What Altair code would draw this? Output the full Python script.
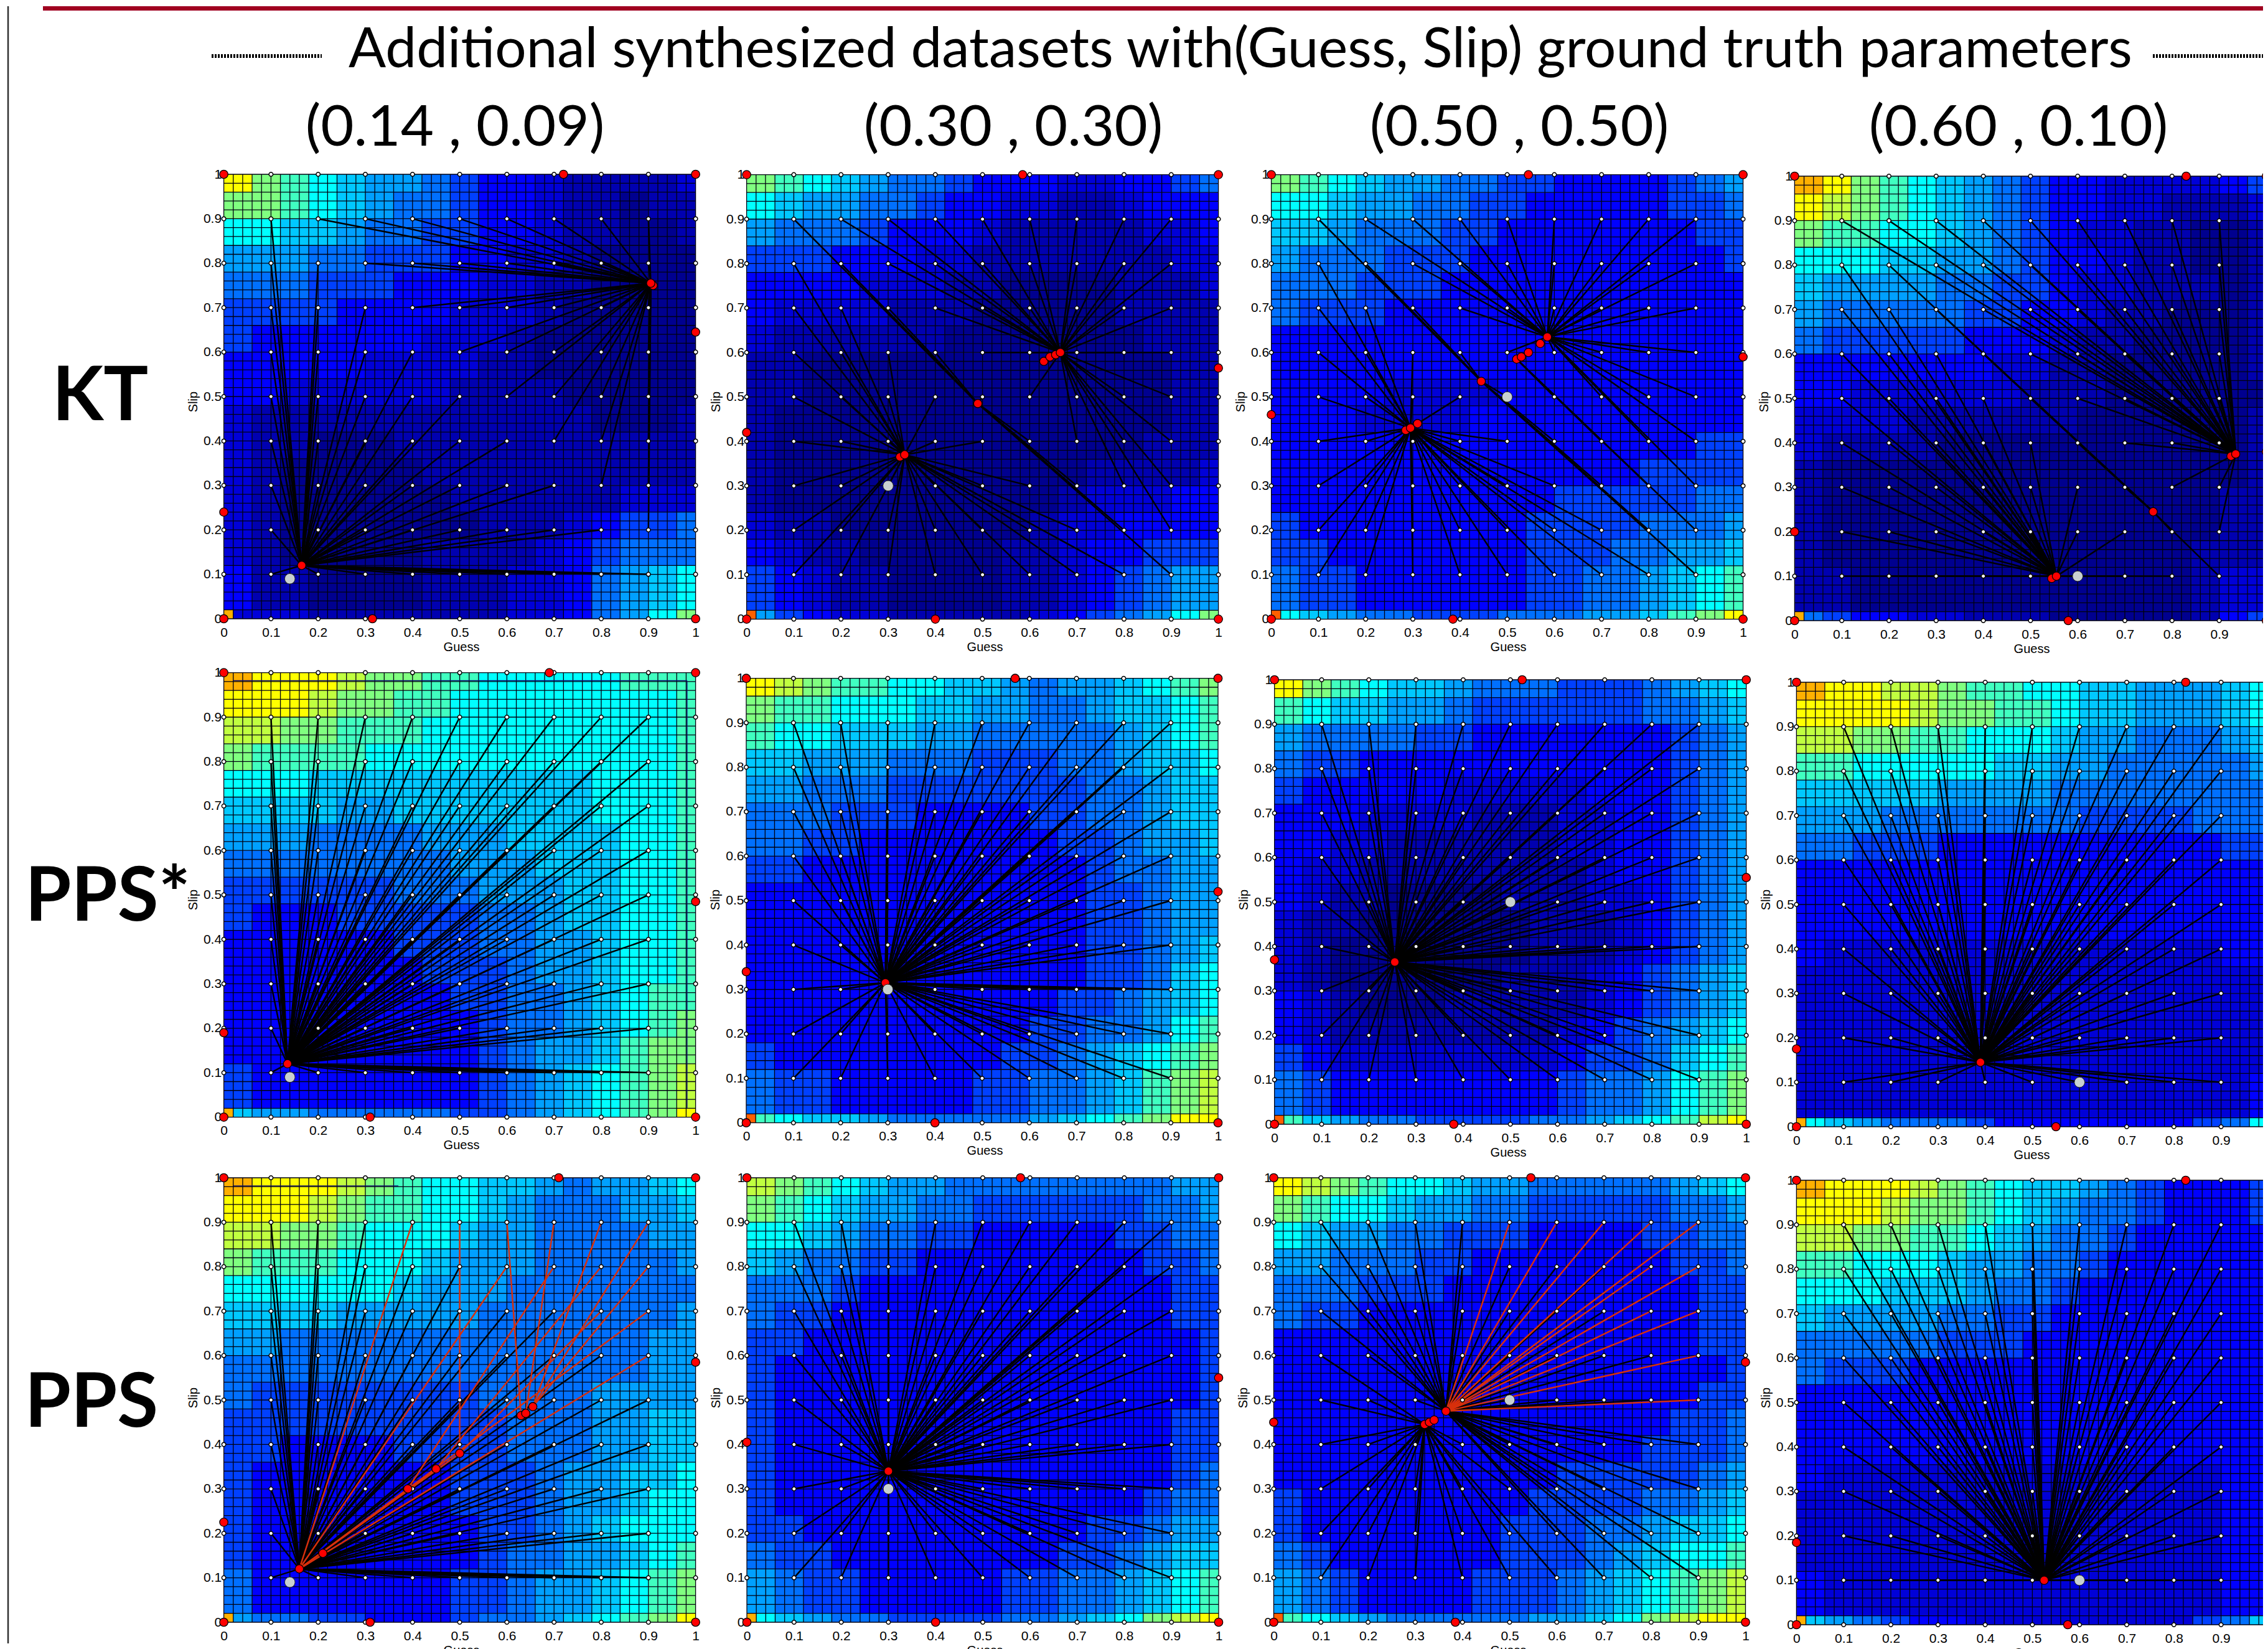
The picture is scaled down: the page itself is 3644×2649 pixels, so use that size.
import altair as alt
import pandas as pd

TITLE = "Additional synthesized datasets with(Guess, Slip) ground truth parameters"
HEADERS = ["(0.14 , 0.09)", "(0.30 , 0.30)", "(0.50 , 0.50)", "(0.60 , 0.10)"]
HEADER_X = [373, 429, 401, 362]
ROW_LABELS = ["KT", "PPS*", "PPS"]
ROW_LABEL_X = [-197, -185, -211]
ROW_LABEL_Y = [359, 363, 376]
TICKS = [0, 0.1, 0.2, 0.3, 0.4, 0.5, 0.6, 0.7, 0.8, 0.9, 1]
STARTS = [0.1, 0.2, 0.3, 0.4, 0.5, 0.6, 0.7, 0.8, 0.9]
LEVELS = list("0123456789abcde")
COLORS = ["#00008f", "#0000b0", "#0000d8", "#0000ff", "#0040ff", "#0070ff", "#00a0ff", "#00c8ff",
          "#00ffff", "#40ffc0", "#80ff80", "#c0ff40", "#ffff00", "#ffb000", "#ff6000"]
BLOCK = 0.06
CELL = 0.02
PLOT_W, PLOT_H = 758, 714
CELL_W, CELL_H = 766, 730

H11 = ["ca987665433211112", "aa987655433211011", "88776554433211001", "66655444332210000",
       "55544433322110000", "44443333222100000", "43333332221000000", "33333222211000000",
       "33222222111100000", "21111111111110001", "21100011111111111", "21000001111111111",
       "21000000111111222", "21000000011123445", "21000001111234555", "31100001112235678",
       "2221111111223568a"]
H12 = ["a9876554333223345", "87665543322112333", "65554333211111223", "44433322111111122",
       "33332221100001112", "32222111000001111", "21111110000000111", "11000000000000011",
       "11000000000000011", "10000000000000011", "10000000000000111", "10000000000011112",
       "10000000000122233", "21100000001223333", "32110000011233444", "43211000011234566",
       "6432211111234568a"]
H13 = ["a9876655443333456", "88766554433333445", "77655544333333344", "65554443333333334",
       "55544433333333333", "54443333333333333", "33333333333333333", "33333333333333333",
       "33332222333333333", "33322223333333333", "33333333333333344", "33333333333334444",
       "33333333334444455", "43333333344445556", "44333333344455667", "54433333344556789",
       "876554445556679ac"]
H14 = ["dca98765433222234", "cba98765433221112", "a9988765432211001", "88877665433211001",
       "76666554432211101", "65555544332110001", "54444433321100001", "33333332211000001",
       "33222222111000000", "22221111110000001", "21111000000000001", "10000000000000001",
       "10000000000000011", "10000000000000011", "10000000000000111", "11000000000000122",
       "54332211100000134"]
H21 = ["dcccbaa9988888999", "cccbaa99888888889", "bbaa9998888888889", "a9999888888888889",
       "88877777777778889", "77776677777778889", "66655556667777889", "55555555666777889",
       "44444455566677889", "43334444455677889", "33333344455667889", "33333334445667889",
       "33333333445567899", "3333333334556789a", "333333333456679aa", "433333333456789ab",
       "766555554456789ac"]
H22 = ["cba9988776566789a", "a9988877665567789", "98877766555556789", "77666555444556778",
       "66555444444455677", "55544433334455677", "55443333333445667", "44333333333345566",
       "33333333333344566", "33333333333344566", "33333333333344567", "33333333333344578",
       "33333333333445678", "33333333334455689", "4333333334456789a", "544333334455679ab",
       "98776555556789acc"]
H23 = ["ca987765554445678", "98776654444445567", "65555443333333456", "54433333333333456",
       "43333322222333456", "33322221112233456", "33221111112233456", "32211111111233456",
       "32110000111223456", "21100000011123456", "21000000011123456", "21000000111234567",
       "32100011111234567", "32111111112345678", "43222222223445789", "5433333333455689a",
       "976554444556789bc"]
H24 = ["dccbba99887766678", "ccccbaa9987766678", "bbaa9988876655567", "99888887766555556",
       "77777666655555555", "66655555554444555", "55444333333333344", "33333333333333333",
       "33333333333333333", "33333333333333333", "32222222222222233", "22222222222222222",
       "22222222222222222", "22222222222222222", "22222222222222222", "22222222222222223",
       "87655543333333458"]
H31 = ["dcccba98877656678", "cccba998876555667", "bbaa9888766555566", "a9998887666555556",
       "88888876665555555", "77776666655555556", "66555555555555566", "55555555555555566",
       "54444444455556666", "44444444445556677", "44333344445556677", "43333333444566778",
       "43333333444566788", "43333333344567888", "43333333345566789", "5333333344566789a",
       "655443334556789ac"]
H32 = ["ba987665555555566", "a9876655444444556", "88765544333334455", "76554433333333445",
       "55543333333333344", "54433333333333344", "44333333333333334", "43333333333333334",
       "43333333333333334", "43333333333333344", "43333333333333344", "43333333333333345",
       "43333333333333455", "44333333333344566", "54433333333445677", "65443333344556789",
       "87655444455678abc"]
H33 = ["cba98876655555678", "a9887665544444556", "87665544433334455", "66555443333333445",
       "55544433333333344", "54433333333333344", "33333333333333344", "33333333333333334",
       "33333333333333344", "33333333333333445", "33333333333334445", "33333333334444456",
       "43333333344445567", "43333333444556778", "54333333444567889", "654333344456789ab",
       "9876555556678abcc"]
H34 = ["dcccba98776543334", "cccbaa98765543334", "bbaa9987655433333", "99888766554333333",
       "88877765543333333", "76666554433333333", "55555444333333333", "54443333333333333",
       "33333333333333333", "33333333333333333", "33333333333333333", "32222222222222233",
       "22222222222222233", "22222222222222233", "22222222222222233", "32222222222222233",
       "76543322222222457"]

ALL_A = ["AAAAAAAAA"] * 9
P2_ROWS = ["CBBBBBBBB", "ACBBBBBBB", "AACBBBBBB", "AAACBBBBB", "AAAACBBBB",
           "AAAAACBBB", "AAAAAACBB", "AAAAAAACB", "AAAAAAAAC"]

PANELS = [
    dict(heat=H11, corner="d", dx=1.6, dy=0, gray=(0.14, 0.09),
         ends={"A": (0.165, 0.12), "B": (0.905, 0.755)},
         rows=["ABBBBBBBB", "AABBBBBBB", "AAABBBBBB", "AAAABBBBB", "AAAAABBBB",
               "AAAAAABBB", "AAAAAAABB", "AAAAAAAAB", "AAAAAAAAA"],
         red=[(0.91, 0.75), (0.165, 0.12), (0.905, 0.755), (0, 0), (0, 0.24), (0, 1), (0.72, 1), (1, 1), (1, 0.645), (1, 0), (0.315, 0)]),
    dict(heat=H12, corner="e", dx=0.6, dy=0.6, gray=(0.3, 0.3),
         ends={"A": (0.335, 0.37), "B": (0.665, 0.60), "C": (0.49, 0.485)}, rows=P2_ROWS,
         red=[(0.325, 0.365), (0.335, 0.37), (0.63, 0.58), (0.643, 0.59), (0.655, 0.595), (0.665, 0.60), (0.49, 0.485),
              (0, 0), (0, 0.42), (0, 1), (0.585, 1), (1, 1), (1, 0.565), (1, 0), (0.4, 0)]),
    dict(heat=H13, corner="e", dx=2.6, dy=0.6, gray=(0.5, 0.5),
         ends={"A": (0.295, 0.43), "B": (0.585, 0.635), "C": (0.445, 0.535), "D": (0.52, 0.585)},
         rows=["CBBBBBBBB", "ACBBBBBBB", "AACBBBBBB", "AAACBBBBB", "AAAACDBBB",
               "AAAAACDBB", "AAAAAACDB", "AAAAAAACD", "AAAAAAAAC"],
         red=[(0.285, 0.425), (0.295, 0.43), (0.31, 0.44), (0.52, 0.585), (0.53, 0.59), (0.545, 0.60), (0.57, 0.62), (0.585, 0.635), (0.445, 0.535),
              (0, 0), (0, 0.46), (0, 1), (0.545, 1), (1, 1), (1, 0.59), (1, 0), (0.385, 0)]),
    dict(heat=H14, corner="d", dx=2.4, dy=3, gray=(0.6, 0.1),
         ends={"A": (0.555, 0.10), "B": (0.935, 0.375), "C": (0.76, 0.245)},
         rows=["BBBBBBBBB", "ACBBBBBBB", "AACBBBBBB", "AAACBBBBB", "AAAACBBBB",
               "AAAAACBBB", "AAAAAACBB", "AAAAAAACB", "AAAAAAAAC"],
         red=[(0.545, 0.095), (0.555, 0.10), (0.925, 0.37), (0.935, 0.375), (0.76, 0.245),
              (0, 0), (0, 0.2), (0, 1), (0.83, 1), (1, 1), (1, 0.38), (1, 0), (0.58, 0)]),
    dict(heat=H21, corner="d", dx=1.6, dy=0.6, gray=(0.14, 0.09), ends={"A": (0.135, 0.12)}, rows=ALL_A,
         frame=[(0.02, 0.982, 0.982, 0.982), (0.982, 0.982, 0.982, 0.02)],
         red=[(0.135, 0.12), (0, 0), (0, 0.19), (0, 1), (0.69, 1), (1, 1), (1, 0.485), (1, 0), (0.31, 0)]),
    dict(heat=H22, corner="e", dx=0, dy=9.7, gray=(0.3, 0.3), ends={"A": (0.295, 0.315)}, rows=ALL_A,
         red=[(0.295, 0.315), (0, 0), (0, 0.34), (0, 1), (0.57, 1), (1, 1), (1, 0.52), (1, 0), (0.4, 0)]),
    dict(heat=H23, corner="e", dx=7.7, dy=12, gray=(0.5, 0.5), ends={"A": (0.255, 0.365)}, rows=ALL_A,
         red=[(0.255, 0.365), (0, 0), (0, 0.37), (0, 1), (0.525, 1), (1, 1), (1, 0.555), (1, 0), (0.38, 0)]),
    dict(heat=H24, corner="d", dx=5.4, dy=16, gray=(0.6, 0.1), ends={"A": (0.39, 0.145)}, rows=ALL_A,
         red=[(0.39, 0.145), (0, 0), (0, 0.175), (0, 1), (0.825, 1), (1, 1), (1, 0.26), (1, 0), (0.55, 0)]),
    dict(heat=H31, corner="d", dx=1.6, dy=12, gray=(0.14, 0.09),
         ends={"A": (0.16, 0.12), "a": (0.16, 0.12), "b": (0.63, 0.465), "c": (0.64, 0.47), "d": (0.655, 0.485),
               "e": (0.5, 0.38), "f": (0.39, 0.30), "g": (0.45, 0.345)},
         rows=["AAAaebcdd", "AAAAAafgd", "AAAAAAAef", "AAAAAAAAa", "AAAAAAAAA",
               "AAAAAAAAA", "AAAAAAAAA", "AAAAAAAAA", "AAAAAAAAA"],
         links=[(0.5, 0.38, 0.16, 0.12), (0.39, 0.30, 0.16, 0.12), (0.45, 0.345, 0.16, 0.12)],
         frame=[(0.02, 0.982, 0.37, 0.982)],
         red=[(0.16, 0.12), (0.21, 0.155), (0.39, 0.30), (0.45, 0.345), (0.5, 0.38), (0.63, 0.465), (0.64, 0.47), (0.655, 0.485),
              (0, 0), (0, 0.225), (0, 1), (0.71, 1), (1, 1), (1, 0.585), (1, 0), (0.31, 0)]),
    dict(heat=H32, corner="d", dx=1, dy=12, gray=(0.3, 0.3), ends={"A": (0.3, 0.34)}, rows=ALL_A,
         red=[(0.3, 0.34), (0, 0), (0, 0.405), (0, 1), (0.58, 1), (1, 1), (1, 0.55), (1, 0), (0.4, 0)]),
    dict(heat=H33, corner="e", dx=6.5, dy=12, gray=(0.5, 0.5),
         ends={"A": (0.365, 0.475), "a": (0.365, 0.475), "B": (0.32, 0.445)},
         rows=["AAAAaaaaa", "AAAAAAAaa", "AAAAAAAaa", "BAAAAAAAa", "BBAAAAAAa",
               "BBBBAAAAA", "BBBBBAAAA", "BBBBBAAAA", "BBBBBBAAA"],
         red=[(0.32, 0.445), (0.33, 0.45), (0.34, 0.455), (0.365, 0.475),
              (0, 0), (0, 0.45), (0, 1), (0.545, 1), (1, 1), (1, 0.585), (1, 0), (0.385, 0)]),
    dict(heat=H34, corner="d", dx=5.4, dy=16, gray=(0.6, 0.1), ends={"A": (0.525, 0.10)}, rows=ALL_A,
         red=[(0.525, 0.10), (0, 0), (0, 0.185), (0, 1), (0.825, 1), (1, 1), (1, 0.33), (1, 0), (0.575, 0)]),
]

BLACK_LINE = "#000000"
RED_LINE = "#d8300c"
NAVY_LINE = "#0a0a70"


def text_layer(label, x, y, size, weight="normal"):
    return alt.Chart(pd.DataFrame({"t": [label]})).mark_text(
        font="Lato", fontSize=size, fontWeight=weight, color="black", align="center", baseline="middle"
    ).encode(text="t:N", x=alt.value(x), y=alt.value(y))


def panel(p, idx):
    row, col = idx // 4, idx % 4
    dx, dy = p["dx"], p["dy"]
    xs = alt.Scale(domain=[-dx / PLOT_W, (CELL_W - dx) / PLOT_W], nice=False, zero=False)
    ys = alt.Scale(domain=[-(CELL_H - dy - PLOT_H) / PLOT_H, 1 + dy / PLOT_H], nice=False, zero=False)
    ax_x = alt.Axis(values=TICKS, format=".1~f", title="Guess", domain=False, ticks=False, grid=False,
                    labelFont="Liberation Sans", titleFont="Liberation Sans", labelFontSize=21, titleFontSize=20,
                    titleFontWeight="normal", labelColor="black", titleColor="black", labelPadding=11,
                    titlePadding=3, labelOverlap=False, labelFlush=False,
                    offset=-(CELL_H - dy - PLOT_H))
    ax_y = alt.Axis(values=TICKS, format=".1~f", title="Slip", domain=False, ticks=False, grid=False,
                    labelFont="Liberation Sans", titleFont="Liberation Sans", labelFontSize=21, titleFontSize=20,
                    titleFontWeight="normal", labelColor="black", titleColor="black", labelPadding=4,
                    titlePadding=6, labelOverlap=False, labelFlush=False, offset=-dx)
    X = lambda f: alt.X(f + ":Q", scale=xs, axis=ax_x)
    Y = lambda f: alt.Y(f + ":Q", scale=ys, axis=ax_y)

    cells = []
    for r, line in enumerate(p["heat"]):
        for c, lev in enumerate(line):
            if r == 16:
                y0, y1 = 0, CELL
            elif r == 15:
                y0, y1 = CELL, 2 * BLOCK
            else:
                y0, y1 = (16 - r) * BLOCK, min((17 - r) * BLOCK, 1)
            cells.append(dict(x0=c * BLOCK, x1=min((c + 1) * BLOCK, 1), y0=y0, y1=y1, level=lev))
    cells.append(dict(x0=0, x1=CELL, y0=0, y1=CELL, level=p["corner"]))
    heat = alt.Chart(pd.DataFrame(cells)).mark_rect(strokeWidth=0).encode(
        x=X("x0"), x2="x1:Q", y=Y("y0"), y2="y1:Q",
        color=alt.Color("level:N", scale=alt.Scale(domain=LEVELS, range=COLORS), legend=None),
    )

    grid = []
    for k in range(51):
        g = k * CELL
        grid.append(dict(x0=g, x1=g, y0=0, y1=1))
        grid.append(dict(x0=0, x1=1, y0=g, y1=g))
    grid_l = alt.Chart(pd.DataFrame(grid)).mark_rule(color="#000010", strokeWidth=1.3).encode(
        x=X("x0"), x2="x1:Q", y=Y("y0"), y2="y1:Q")

    lines = []
    for (x0, y0, x1, y1) in p.get("frame", []):
        lines.append(dict(x0=x0, y0=y0, x1=x1, y1=y1, c=NAVY_LINE, w=1.3, order=0))
    for r, row_s in enumerate(p["rows"]):
        slip = STARTS[8 - r]
        for c, letter in enumerate(row_s):
            ex, ey = p["ends"][letter]
            red = letter.islower()
            lines.append(dict(x0=STARTS[c], y0=slip, x1=ex, y1=ey, c=RED_LINE if red else BLACK_LINE, w=2.5, order=1 if red else 0))
    for (x0, y0, x1, y1) in p.get("links", []):
        lines.append(dict(x0=x0, y0=y0, x1=x1, y1=y1, c=RED_LINE, w=2.5, order=1))
    lines = sorted(lines, key=lambda d: d["order"])
    line_l = alt.Chart(pd.DataFrame(lines)).mark_rule().encode(
        x=X("x0"), x2="x1:Q", y=Y("y0"), y2="y1:Q", color=alt.Color("c:N", scale=None),
        strokeWidth=alt.StrokeWidth("w:Q", scale=None))

    white = pd.DataFrame([dict(x=a, y=b) for a in TICKS for b in TICKS])
    white_l = alt.Chart(white).mark_point(shape="circle", filled=True, fill="white", stroke="black",
                                          strokeWidth=1.5, size=42, opacity=1).encode(x=X("x"), y=Y("y"))
    red_l = alt.Chart(pd.DataFrame(p["red"], columns=["x", "y"])).mark_point(
        shape="circle", filled=True, fill="#ff0000", stroke="black", strokeWidth=1.3, size=180, opacity=1
    ).encode(x=X("x"), y=Y("y"))
    gray_l = alt.Chart(pd.DataFrame([p["gray"]], columns=["x", "y"])).mark_point(
        shape="circle", filled=True, fill="#c8d0d0", stroke="#202020", strokeWidth=1, size=280, opacity=1
    ).encode(x=X("x"), y=Y("y"))

    layers = [heat, grid_l, line_l, white_l, red_l, gray_l]
    if row == 0:
        layers.append(text_layer(HEADERS[col], HEADER_X[col], -74, 92))
    if col == 0:
        layers.append(text_layer(ROW_LABELS[row], ROW_LABEL_X[row], ROW_LABEL_Y[row], 120, "bold"))
    if idx == 0:
        layers.append(text_layer(TITLE, 1635, -199, 89))
        one = pd.DataFrame({"k": [0]})
        layers.append(alt.Chart(one).mark_rect(color="#a00020").encode(
            x=alt.value(-289), x2=alt.value(3287), y=alt.value(-270), y2=alt.value(-263)))
        layers.append(alt.Chart(one).mark_rule(color="#303030", strokeWidth=2.5).encode(
            x=alt.value(-345), y=alt.value(-270), y2=alt.value(2360)))
        for a, b in [(-18, 159), (3101, 3287)]:
            layers.append(alt.Chart(one).mark_rule(color="black", strokeWidth=6, strokeDash=[3, 2]).encode(
                x=alt.value(a), x2=alt.value(b), y=alt.value(-190)))
    return alt.layer(*layers).properties(width=CELL_W, height=CELL_H)


chart = alt.concat(*[panel(p, i) for i, p in enumerate(PANELS)], columns=4,
                   spacing={"row": 70, "column": 75}, bounds="flush").properties(
    padding={"left": 3, "top": 0, "right": -18, "bottom": 0}, background="white"
).configure_view(stroke=None)

chart.save("out.html", embed_options={"renderer": "svg", "actions": False})
